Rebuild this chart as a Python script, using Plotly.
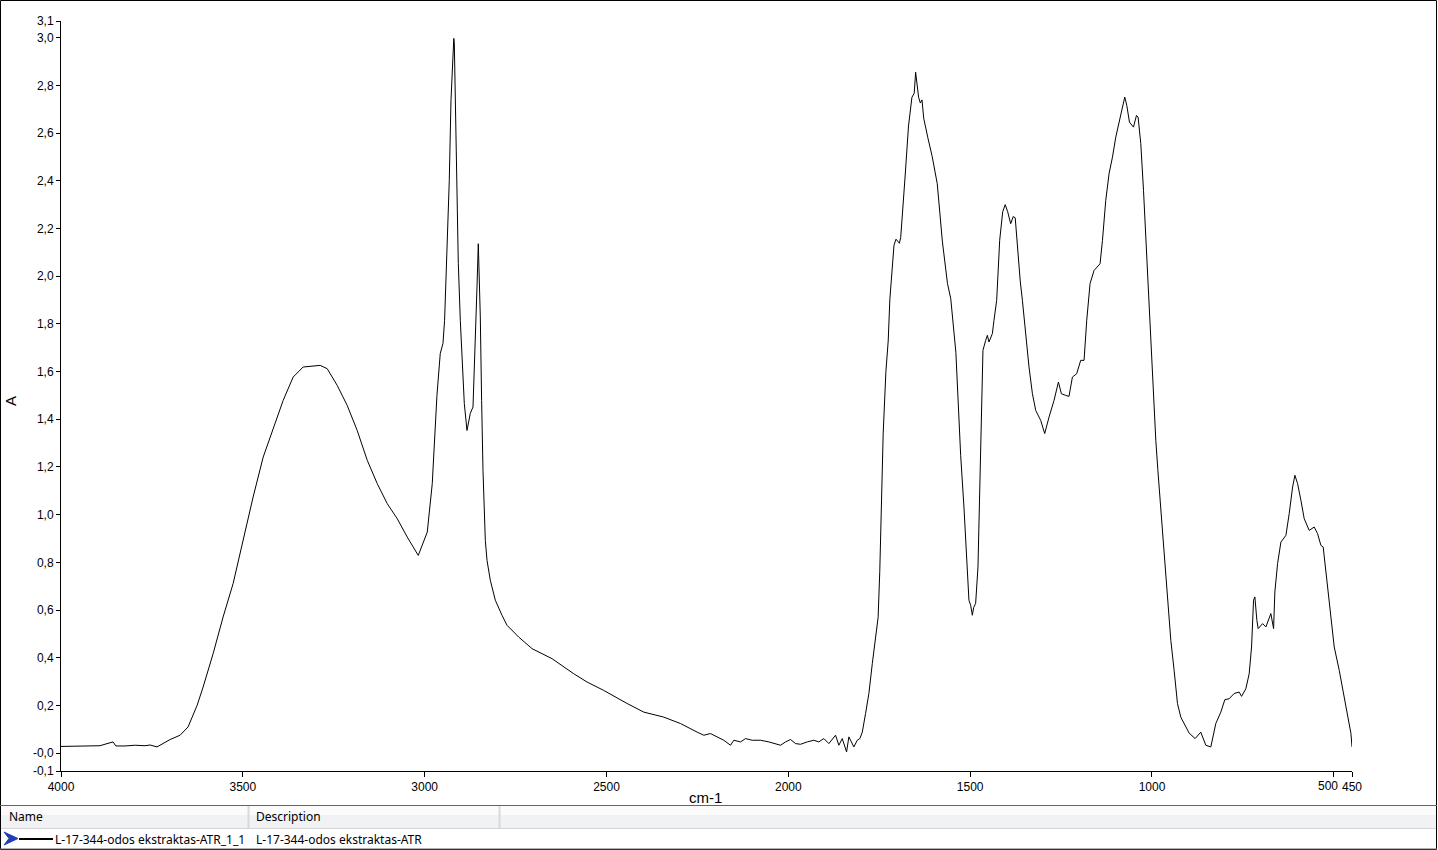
import plotly.graph_objects as go

# Spectrum data (wavenumber cm-1, absorbance A)
wavenumber = [
    4000, 3961, 3920, 3893, 3857, 3849, 3824, 3796, 3769, 3755, 3736, 3719,
    3700, 3672.5, 3650.5, 3625.8, 3609.2, 3581.7, 3554.2, 3526.7, 3499.2,
    3471.7, 3444.1, 3416.6, 3389.1, 3361.6, 3334.1, 3287.3, 3268.0, 3240.5,
    3213.0, 3185.5, 3157.9, 3130.4, 3102.9, 3075.4, 3047.9, 3017.6, 2992.8,
    2979.1, 2966.2, 2957.1, 2949.6, 2945.2, 2938.6, 2932.3, 2927.6, 2922.1,
    2919.9, 2918.5, 2913.9, 2907.5, 2902.0, 2896.5, 2891.0, 2883.6, 2874.5,
    2867.1, 2861.6, 2856.1, 2852.5, 2847.0, 2843.4, 2839.6, 2833.2, 2828.5,
    2819.5, 2805.7, 2787.3, 2773.5, 2741.6, 2704.7, 2649.7, 2590.3, 2553.3,
    2507.7, 2443.3, 2397.6, 2342.6, 2296.6,
    2250.7, 2232.5, 2214.1, 2195.6, 2177.5, 2159.0, 2149.9, 2131.5, 2117.7,
    2099.3, 2076.5, 2053.6, 2039.9, 2021.4, 2007.7, 1993.9, 1980.2, 1966.4,
    1948.0, 1929.8, 1916.1, 1902.3, 1888.5, 1870.1, 1861.0, 1851.7, 1839.8,
    1833.5, 1819.7, 1810.4, 1803.3,
    1796.6, 1787.6, 1778.5, 1769.1, 1762.5, 1753.1,
    1748.5, 1743.8, 1739.1, 1731.7, 1725.4, 1720.7, 1716.0, 1709.4, 1703.9,
    1694.5, 1690.9, 1685.2, 1678.8, 1669.5, 1660.1, 1653.8, 1649.9, 1641.7,
    1637.0, 1632.4, 1627.7, 1616.4, 1604.3, 1590.5, 1576.5, 1562.4, 1553.3,
    1539.3, 1530.0, 1526.1, 1517.1, 1509.6, 1503.3, 1498.6, 1494.0, 1490.4,
    1484.9, 1478.5, 1473.0, 1469.2, 1464.8, 1457.3, 1452.7, 1448.3, 1438.9,
    1434.5, 1427.1, 1418.8, 1410.5, 1403.6, 1396.8, 1388.5, 1381.6, 1376.1,
    1369.2, 1362.3, 1356.3, 1347.3, 1338.2, 1328.8, 1319.7, 1306.0, 1295.0,
    1283.1, 1269.4, 1257.3, 1249.1, 1237.3, 1228.2, 1218.8, 1207.0, 1196.0,
    1186.8, 1179.4, 1170.3, 1159.3, 1142.8, 1136.2, 1127.1, 1118.0, 1108.7,
    1099.6, 1085.9, 1074.9, 1069.3, 1061.9, 1050.9, 1042.7, 1038.2, 1030.8,
    1023.3, 1017.0, 1010.7, 1003.3, 995.8, 989.5, 984.0, 975.7, 966.7, 957.3,
    948.2, 939.1, 929.9, 920.8, 911.6, 897.9, 881.4, 865.8, 852.0, 838.2,
    824.5, 810.7, 799.7, 787.8, 774.1, 760.3, 753.7, 741.9, 732.7, 726.2,
    720.7, 717.1, 711.6, 708.0, 695.9, 686.8, 673.1, 665.6, 662.1, 654.6,
    645.5, 631.7, 622.7, 613.3, 607.0, 599.6, 590.5, 581.4, 567.7, 553.9,
    544.6, 535.5, 529.2, 521.7, 512.6, 498.9, 485.1, 471.3, 462.0, 452.9, 450,
]
absorbance = [
    0.028, 0.030, 0.029, 0.031, 0.047, 0.030, 0.030, 0.033, 0.031, 0.034, 0.026, 0.040,
    0.057, 0.075, 0.110, 0.200, 0.277, 0.417, 0.571, 0.711, 0.892,
    1.074, 1.241, 1.361, 1.479, 1.577, 1.619, 1.626, 1.612, 1.542,
    1.458, 1.353, 1.228, 1.130, 1.046, 0.983, 0.906, 0.829, 0.927,
    1.130, 1.500, 1.676, 1.718, 1.815, 2.095, 2.400, 2.737, 2.989,
    2.997, 2.980, 2.556, 2.054, 1.815, 1.619, 1.466, 1.353, 1.425,
    1.451, 1.676, 1.954, 2.136, 1.829, 1.479, 1.186, 0.892, 0.808,
    0.725, 0.641, 0.578, 0.536, 0.487, 0.438, 0.396, 0.333, 0.298,
    0.263, 0.208, 0.172, 0.151, 0.124,
    0.088, 0.075, 0.082, 0.068, 0.054, 0.033, 0.054, 0.047, 0.061,
    0.054, 0.054, 0.047, 0.040, 0.033, 0.047, 0.057, 0.040, 0.037,
    0.047, 0.054, 0.047, 0.061, 0.040, 0.075, 0.033, 0.061, 0.005,
    0.068, 0.026, 0.054, 0.061,
    0.088, 0.166, 0.250, 0.375, 0.457, 0.569,
    0.762, 1.020, 1.342, 1.599, 1.728, 1.905, 2.018, 2.130, 2.155,
    2.138, 2.163, 2.276, 2.420, 2.630, 2.750, 2.767, 2.855, 2.750,
    2.726, 2.739, 2.662, 2.581, 2.501, 2.388, 2.147, 1.970, 1.905,
    1.681, 1.342, 1.249, 1.032, 0.838, 0.641, 0.620, 0.578, 0.610,
    0.628, 0.780, 1.200, 1.479, 1.689, 1.731, 1.752, 1.724, 1.759,
    1.815, 1.898, 2.150, 2.270, 2.300, 2.270, 2.220, 2.250, 2.245,
    2.100, 1.980, 1.898, 1.745, 1.619, 1.507, 1.437, 1.395, 1.340,
    1.409, 1.479, 1.556, 1.507, 1.500, 1.496, 1.577, 1.591, 1.647,
    1.647, 1.815, 1.969, 2.024, 2.052, 2.150, 2.318, 2.430, 2.499,
    2.583, 2.681, 2.751, 2.716, 2.646, 2.625, 2.674, 2.667, 2.556,
    2.360, 2.164, 1.954, 1.759, 1.521, 1.312, 1.190, 1.018, 0.836, 0.641,
    0.473, 0.347, 0.208, 0.151, 0.124, 0.084, 0.061, 0.088, 0.033, 0.026,
    0.124, 0.172, 0.224, 0.228, 0.250, 0.256, 0.238, 0.270, 0.333, 0.445,
    0.641, 0.655, 0.557, 0.522, 0.543, 0.529, 0.585, 0.522, 0.676, 0.795,
    0.885, 0.913, 1.004, 1.116, 1.165, 1.130, 1.060, 0.983, 0.934, 0.948,
    0.920, 0.871, 0.864, 0.766, 0.641, 0.445, 0.347, 0.235, 0.166, 0.082, 0.026,
]

x_tick_vals = [4000, 3500, 3000, 2500, 2000, 1500, 1000, 500, 450]
# the "500" label is drawn as an annotation nudged left so it does not collide with "450"
x_tick_text = ["4000", "3500", "3000", "2500", "2000", "1500", "1000", "", "450"]
x_label_500 = "500"
y_tick_vals = [-0.075, 0.0, 0.2, 0.4, 0.6, 0.8, 1.0, 1.2, 1.4, 1.6, 1.8, 2.0,
               2.2, 2.4, 2.6, 2.8, 3.0, 3.07]
y_tick_text = ["-0,1", "-0,0", "0,2", "0,4", "0,6", "0,8", "1,0", "1,2", "1,4",
               "1,6", "1,8", "2,0", "2,2", "2,4", "2,6", "2,8", "3,0", "3,1"]

series_name = "L-17-344-odos ekstraktas-ATR_1_1"
series_desc = "L-17-344-odos ekstraktas-ATR"

W, H = 1438, 850
L, R, T, B = 61, 86, 21, 79
PW, PH = W - L - R, H - T - B


def px(xp):
    return (xp - L) / PW


def py(yp):
    return (H - B - yp) / PH


fig = go.Figure()
fig.add_trace(go.Scatter(
    x=wavenumber, y=absorbance, mode="lines",
    line=dict(color="black", width=1), hoverinfo="x+y", showlegend=False,
))

tick_font = dict(family="Liberation Sans, Arial, sans-serif", size=12, color="black")

fig.update_layout(
    width=W, height=H,
    margin=dict(l=L, r=R, t=T, b=B),
    paper_bgcolor="white", plot_bgcolor="white",
    xaxis=dict(
        range=[4000, 450], showgrid=False, zeroline=False,
        showline=True, linecolor="black", linewidth=1,
        ticks="outside", ticklen=5, tickcolor="black", tickangle=0,
        tickvals=x_tick_vals, ticktext=x_tick_text, tickfont=tick_font,
    ),
    yaxis=dict(
        range=[-0.075, 3.07], showgrid=False, zeroline=False,
        showline=True, linecolor="black", linewidth=1,
        ticks="outside", ticklen=4, tickcolor="black",
        tickvals=y_tick_vals, ticktext=y_tick_text, tickfont=tick_font,
    ),
)

shapes = []
# outer border
shapes.append(dict(type="rect", xref="paper", yref="paper",
                   x0=px(0.5), x1=px(W - 1.5), y0=py(0.5), y1=py(H - 0.5),
                   line=dict(color="black", width=1), fillcolor="rgba(0,0,0,0)",
                   layer="above"))
# header band of the table
shapes.append(dict(type="rect", xref="paper", yref="paper",
                   x0=px(1), x1=px(W - 2), y0=py(806), y1=py(815),
                   line=dict(width=0), fillcolor="#fbfbfc", layer="below"))
shapes.append(dict(type="rect", xref="paper", yref="paper",
                   x0=px(1), x1=px(W - 2), y0=py(815), y1=py(828),
                   line=dict(width=0), fillcolor="#f1f2f4", layer="below"))
# separators
shapes.append(dict(type="line", xref="paper", yref="paper",
                   x0=px(0), x1=px(W - 1), y0=py(805.5), y1=py(805.5),
                   line=dict(color="#646464", width=1)))
shapes.append(dict(type="line", xref="paper", yref="paper",
                   x0=px(1), x1=px(W - 2), y0=py(828.5), y1=py(828.5),
                   line=dict(color="#d5d5d5", width=1)))
shapes.append(dict(type="line", xref="paper", yref="paper",
                   x0=px(0), x1=px(W - 1), y0=py(849), y1=py(849),
                   line=dict(color="#646464", width=1)))
for cx in (248.5, 499.5):
    shapes.append(dict(type="line", xref="paper", yref="paper",
                       x0=px(cx), x1=px(cx), y0=py(806), y1=py(828),
                       line=dict(color="#d9d9d9", width=2)))
# legend row: blue chevron and black line sample
shapes.append(dict(type="path", xref="paper", yref="paper",
                   path="M {} {} L {} {} L {} {} L {} {} Z".format(
                       px(4), py(832), px(18), py(838.5), px(4), py(845), px(9), py(838.5)),
                   fillcolor="#1f3fb8", line=dict(color="#1f3fb8", width=1)))
shapes.append(dict(type="line", xref="paper", yref="paper",
                   x0=px(19), x1=px(53), y0=py(839), y1=py(839),
                   line=dict(color="black", width=2)))
fig.update_layout(shapes=shapes)

ui_font = dict(family="Noto Sans, Open Sans, sans-serif", size=12, color="black")
ann = [
    dict(text=x_label_500, x=500, xref="x", y=py(786), yref="paper",
         showarrow=False, font=tick_font, xanchor="center", yanchor="middle",
         xshift=-6),
    dict(text="A", x=px(11), y=py(401), xref="paper", yref="paper",
         showarrow=False, textangle=-90, font=dict(family="Liberation Sans, Arial", size=15, color="black"),
         xanchor="center", yanchor="middle"),
    dict(text="cm-1", x=px(705), y=py(797), xref="paper", yref="paper",
         showarrow=False, font=dict(family="Liberation Sans, Arial", size=15, color="black"),
         xanchor="center", yanchor="middle"),
    dict(text="Name", x=px(7), y=py(817), xref="paper", yref="paper",
         showarrow=False, font=ui_font, xanchor="left", yanchor="middle"),
    dict(text="Description", x=px(254), y=py(817), xref="paper", yref="paper",
         showarrow=False, font=ui_font, xanchor="left", yanchor="middle"),
    dict(text=series_name, x=px(53), y=py(839), xref="paper", yref="paper",
         showarrow=False, font=ui_font, xanchor="left", yanchor="middle"),
    dict(text=series_desc, x=px(254), y=py(839), xref="paper", yref="paper",
         showarrow=False, font=ui_font, xanchor="left", yanchor="middle"),
]
fig.update_layout(annotations=ann)

fig.write_html(
    "out.html",
    config={"displayModeBar": False},
    post_script="document.body.style.margin='0';document.body.style.padding='0';",
)
